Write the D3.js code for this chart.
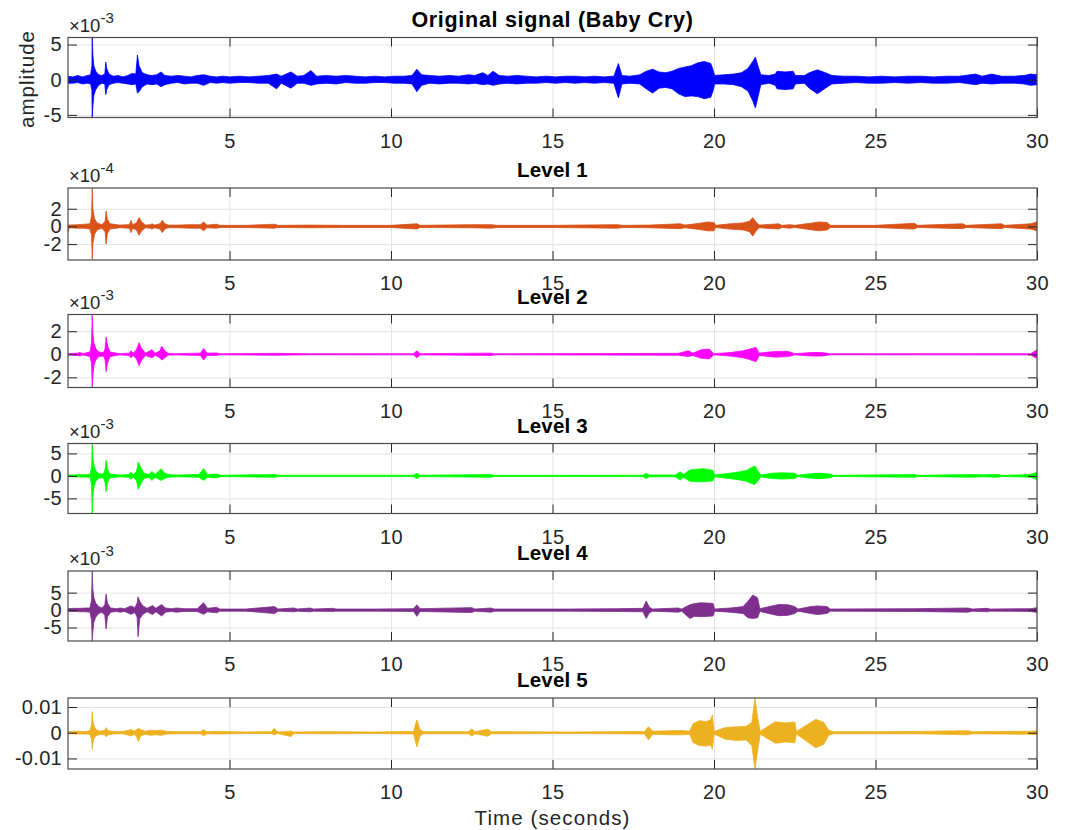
<!DOCTYPE html>
<html lang="en">
<head>
<meta charset="UTF-8">
<title>Baby Cry wavelet levels</title>
<script src="https://d3js.org/d3.v7.min.js"></script>
<style>
  body { margin: 0; background: #fff; }
  svg { display: block; font-family: "Liberation Sans", Arial, Helvetica, sans-serif; }
  .tick text { fill: #262626; font-size: 20px; letter-spacing: 0.3px; }
  .domain { display: none; }
</style>
</head>
<body>
<div id="chart"></div>
<script>
// signal envelopes: [time (s), upper, lower]
// original, level2..level5 in units of 1e-3, level1 in units of 1e-4
const original = [
  [0.00,0.5,-0.5],[0.15,0.4,-0.5],[0.30,0.6,-0.4],[0.45,0.4,-0.6],[0.60,0.6,-0.5],[0.70,0.7,-0.6],
  [0.74,2.0,-1.5],[0.75,6.0,-5.37],[0.77,3.5,-3.8],[0.80,2.0,-2.2],[0.86,1.2,-1.4],[0.95,0.7,-0.8],
  [1.05,0.6,-0.5],[1.14,0.8,-0.6],[1.17,2.5,-2.1],[1.20,1.6,-1.4],[1.27,0.8,-0.7],[1.40,0.5,-0.5],
  [1.55,0.6,-0.4],[1.70,0.4,-0.5],[1.85,0.6,-0.6],[1.98,0.9,-0.7],[2.10,0.8,-0.6],[2.15,3.5,-1.9],
  [2.20,2.0,-1.7],[2.30,1.0,-1.0],[2.45,0.7,-0.6],[2.60,0.6,-0.7],[2.75,0.7,-0.6],[2.88,1.1,-1.0],
  [3.00,0.6,-0.7],[3.20,0.5,-0.5],[3.40,0.6,-0.4],[3.60,0.5,-0.6],[3.80,0.4,-0.5],[4.00,0.6,-0.5],
  [4.20,0.7,-0.8],[4.40,0.5,-0.4],[4.60,0.4,-0.5],[4.80,0.5,-0.4],[5.00,0.4,-0.5],[5.30,0.5,-0.4],
  [5.60,0.4,-0.4],[5.90,0.5,-0.5],[6.20,0.6,-0.5],[6.46,0.8,-1.3],[6.60,0.5,-0.5],[6.90,1.1,-1.2],
  [7.10,0.5,-0.5],[7.30,0.6,-0.5],[7.52,1.3,-0.8],[7.70,0.5,-0.6],[8.00,0.6,-0.5],[8.30,0.5,-0.6],
  [8.60,0.6,-0.4],[8.90,0.5,-0.5],[9.20,0.4,-0.5],[9.50,0.5,-0.4],[9.80,0.4,-0.4],[10.10,0.5,-0.5],
  [10.40,0.5,-0.5],[10.65,0.6,-0.6],[10.80,1.5,-1.7],[10.95,0.7,-0.8],[11.20,0.6,-0.5],[11.50,0.5,-0.6],
  [11.80,0.6,-0.5],[12.10,0.5,-0.5],[12.40,0.7,-0.6],[12.60,0.6,-0.5],[12.84,1.0,-0.7],[13.00,0.6,-0.6],
  [13.16,1.2,-0.8],[13.35,0.6,-0.6],[13.60,0.5,-0.5],[13.90,0.6,-0.6],[14.20,0.5,-0.5],[14.50,0.4,-0.5],
  [14.80,0.5,-0.4],[15.10,0.4,-0.5],[15.40,0.5,-0.4],[15.70,0.5,-0.5],[16.00,0.4,-0.4],[16.30,0.5,-0.5],
  [16.60,0.4,-0.4],[16.90,0.5,-0.5],[17.04,2.3,-2.6],[17.15,0.6,-0.6],[17.40,0.5,-0.5],[17.70,0.7,-0.6],
  [17.90,1.2,-1.3],[18.10,1.5,-1.9],[18.30,1.1,-1.2],[18.50,1.0,-1.1],[18.70,1.2,-1.3],[18.90,1.6,-2.0],
  [19.10,1.8,-2.4],[19.30,2.0,-2.3],[19.50,2.4,-2.4],[19.70,2.6,-2.7],[19.90,2.3,-2.5],[19.97,1.4,-1.6],
  [20.02,0.6,-0.6],[20.30,0.7,-0.6],[20.60,0.8,-0.7],[20.85,1.0,-1.0],[21.05,1.6,-1.6],[21.20,2.6,-3.0],
  [21.28,3.2,-4.0],[21.36,2.0,-2.5],[21.45,0.7,-0.7],[21.70,0.6,-0.5],[21.90,0.8,-0.8],[21.95,1.2,-1.3],
  [22.20,1.1,-1.4],[22.45,1.2,-1.3],[22.52,0.6,-0.6],[22.80,0.6,-0.5],[22.95,1.0,-1.2],[23.20,1.4,-2.0],
  [23.45,1.0,-1.2],[23.65,0.6,-0.6],[24.00,0.5,-0.5],[24.40,0.5,-0.4],[24.80,0.4,-0.5],[25.20,0.5,-0.5],
  [25.60,0.4,-0.4],[26.00,0.5,-0.5],[26.40,0.5,-0.4],[26.80,0.4,-0.5],[27.20,0.5,-0.5],[27.60,0.5,-0.4],
  [28.10,0.8,-0.7],[28.30,0.5,-0.5],[28.60,0.8,-0.6],[28.90,0.5,-0.5],[29.30,0.5,-0.5],[29.60,0.6,-0.6],
  [29.80,0.8,-0.8],[30.00,0.7,-0.7]
];

const level1 = [
  [0.00,0.15,-0.6],[0.04,0.15,-0.15],[0.30,0.2,-0.2],[0.50,0.25,-0.2],[0.68,0.3,-0.3],[0.73,1.2,-1.0],
  [0.75,4.35,-3.8],[0.77,2.0,-2.0],[0.82,0.9,-0.9],[0.90,0.4,-0.4],[1.05,0.2,-0.2],[1.15,0.6,-0.6],
  [1.18,1.75,-2.0],[1.22,0.8,-0.8],[1.30,0.3,-0.3],[1.60,0.15,-0.15],[1.90,0.2,-0.2],[1.95,0.7,-0.7],
  [2.00,0.2,-0.2],[2.12,0.4,-0.4],[2.20,1.0,-1.0],[2.28,0.5,-0.5],[2.40,0.15,-0.15],[2.55,0.2,-0.2],
  [2.60,0.3,-0.3],[2.68,0.15,-0.15],[2.85,0.3,-0.3],[2.92,0.7,-0.7],[3.00,0.3,-0.3],[3.10,0.15,-0.15],
  [3.40,0.15,-0.15],[3.80,0.2,-0.2],[4.10,0.2,-0.2],[4.20,0.5,-0.5],[4.30,0.15,-0.15],[4.60,0.25,-0.2],
  [4.70,0.12,-0.12],[5.50,0.12,-0.12],[6.40,0.25,-0.2],[6.50,0.12,-0.12],[7.50,0.15,-0.15],[8.50,0.12,-0.12],
  [10.00,0.12,-0.12],[10.80,0.3,-0.3],[10.90,0.12,-0.12],[12.50,0.2,-0.15],[13.10,0.2,-0.2],[13.30,0.12,-0.12],
  [15.00,0.12,-0.12],[17.00,0.2,-0.2],[17.20,0.12,-0.12],[18.00,0.15,-0.15],[18.95,0.3,-0.25],[19.10,0.15,-0.15],
  [19.55,0.35,-0.35],[19.80,0.5,-0.5],[20.00,0.45,-0.5],[20.05,0.12,-0.12],[20.50,0.3,-0.3],[20.90,0.4,-0.4],
  [21.10,0.6,-0.6],[21.20,1.0,-1.1],[21.30,0.5,-0.5],[21.40,0.15,-0.15],[21.80,0.25,-0.25],[22.00,0.3,-0.3],
  [22.10,0.12,-0.12],[22.35,0.2,-0.2],[22.50,0.12,-0.12],[23.05,0.4,-0.4],[23.25,0.5,-0.5],[23.50,0.45,-0.4],
  [23.60,0.12,-0.12],[25.00,0.12,-0.12],[26.20,0.35,-0.3],[26.30,0.12,-0.12],[27.70,0.3,-0.25],[27.80,0.12,-0.12],
  [28.90,0.3,-0.25],[29.00,0.12,-0.12],[29.80,0.3,-0.3],[30.00,0.5,-0.5]
];

const level2 = [
  [0.00,0.05,-0.05],[0.30,0.1,-0.1],[0.37,0.15,-0.15],[0.45,0.06,-0.06],[0.55,0.12,-0.1],[0.68,0.2,-0.2],
  [0.73,1.0,-0.8],[0.75,3.45,-2.88],[0.77,1.8,-1.8],[0.80,1.0,-1.0],[0.86,0.5,-0.5],[0.95,0.2,-0.2],
  [1.10,0.15,-0.15],[1.15,0.5,-0.5],[1.18,1.5,-1.5],[1.22,0.8,-0.8],[1.30,0.2,-0.2],[1.60,0.05,-0.05],
  [1.90,0.1,-0.1],[1.95,0.3,-0.3],[2.02,0.1,-0.1],[2.12,0.4,-0.4],[2.20,1.0,-1.0],[2.28,0.5,-0.5],
  [2.40,0.1,-0.1],[2.60,0.4,-0.3],[2.70,0.1,-0.1],[2.85,0.3,-0.3],[2.90,0.7,-0.5],[3.00,0.3,-0.3],
  [3.10,0.08,-0.08],[3.30,0.05,-0.05],[4.10,0.1,-0.1],[4.20,0.5,-0.5],[4.30,0.1,-0.1],[4.60,0.12,-0.1],
  [4.70,0.04,-0.04],[6.40,0.08,-0.08],[7.50,0.04,-0.04],[10.70,0.05,-0.05],[10.80,0.3,-0.3],[10.90,0.05,-0.05],
  [13.10,0.1,-0.1],[13.20,0.04,-0.04],[18.90,0.08,-0.08],[19.20,0.3,-0.2],[19.35,0.1,-0.1],[19.60,0.4,-0.35],
  [19.85,0.45,-0.4],[20.00,0.05,-0.05],[20.50,0.15,-0.15],[20.90,0.3,-0.3],[21.10,0.45,-0.45],[21.30,0.6,-0.65],
  [21.40,0.1,-0.1],[21.90,0.25,-0.25],[22.30,0.25,-0.2],[22.50,0.05,-0.05],[23.00,0.15,-0.15],[23.35,0.15,-0.15],
  [23.60,0.04,-0.04],[28.00,0.05,-0.05],[29.80,0.05,-0.05],[29.95,0.3,-0.3],[30.00,0.3,-0.3]
];

const level3 = [
  [0.00,0.2,-0.2],[0.40,0.25,-0.25],[0.68,0.3,-0.3],[0.73,2.0,-2.0],[0.75,7.2,-8.36],[0.77,4.0,-4.5],
  [0.80,2.5,-2.5],[0.86,1.2,-1.2],[0.95,0.5,-0.5],[1.10,0.4,-0.4],[1.15,1.5,-1.5],[1.18,3.5,-3.5],
  [1.22,1.5,-1.5],[1.30,0.4,-0.4],[1.60,0.2,-0.2],[1.88,0.3,-0.3],[1.95,0.8,-0.7],[2.03,0.3,-0.3],
  [2.12,1.0,-1.0],[2.18,3.1,-3.0],[2.26,1.8,-1.6],[2.35,0.6,-0.6],[2.50,0.3,-0.3],[2.60,1.0,-1.0],
  [2.70,0.3,-0.3],[2.88,1.6,-1.0],[2.98,0.7,-0.6],[3.10,0.3,-0.3],[3.40,0.2,-0.2],[4.05,0.3,-0.3],
  [4.20,1.6,-1.0],[4.32,0.3,-0.3],[4.60,0.4,-0.4],[4.75,0.15,-0.15],[6.40,0.3,-0.3],[6.50,0.15,-0.15],
  [10.70,0.15,-0.15],[10.80,0.6,-0.6],[10.90,0.15,-0.15],[13.10,0.3,-0.3],[13.20,0.12,-0.12],[17.80,0.15,-0.15],
  [17.90,0.6,-0.6],[18.00,0.2,-0.2],[18.80,0.2,-0.2],[18.95,0.9,-0.9],[19.05,0.3,-0.3],[19.25,1.3,-1.2],
  [19.45,1.5,-1.3],[19.66,1.6,-1.3],[19.85,1.4,-1.2],[19.97,1.2,-1.1],[20.02,0.2,-0.2],[20.50,0.6,-0.6],
  [20.80,0.9,-0.9],[21.00,1.2,-1.2],[21.20,2.0,-1.8],[21.27,2.2,-1.9],[21.37,1.0,-1.0],[21.45,0.2,-0.2],
  [21.80,0.6,-0.6],[22.10,0.7,-0.7],[22.50,0.6,-0.6],[22.60,0.15,-0.15],[23.00,0.5,-0.5],[23.30,0.6,-0.6],
  [23.60,0.4,-0.4],[23.70,0.12,-0.12],[26.20,0.3,-0.3],[26.30,0.12,-0.12],[27.90,0.3,-0.3],[28.30,0.25,-0.2],
  [28.80,0.3,-0.3],[28.90,0.12,-0.12],[29.80,0.3,-0.3],[30.00,0.8,-0.8]
];

const level4 = [
  [0.00,0.4,-0.4],[0.20,0.5,-0.4],[0.40,0.5,-0.5],[0.55,0.6,-0.5],[0.68,0.6,-0.6],[0.73,3.0,-3.0],
  [0.75,11.2,-8.86],[0.77,6.0,-6.0],[0.80,3.5,-3.5],[0.86,2.0,-2.0],[0.95,1.0,-1.0],[1.05,0.6,-0.6],
  [1.14,1.5,-1.5],[1.18,4.6,-5.4],[1.22,2.0,-2.0],[1.32,0.6,-0.6],[1.50,0.4,-0.4],[1.61,0.6,-0.6],
  [1.75,0.4,-0.4],[1.95,1.2,-1.2],[2.07,0.7,-0.7],[2.14,2.0,-2.0],[2.17,3.8,-7.6],[2.22,2.5,-2.5],
  [2.32,1.2,-1.2],[2.45,0.5,-0.5],[2.62,1.3,-1.3],[2.72,0.5,-0.5],[2.90,1.6,-1.7],[3.02,0.6,-0.6],
  [3.20,0.4,-0.4],[3.36,0.6,-0.6],[3.60,0.4,-0.4],[4.00,0.4,-0.4],[4.20,2.1,-1.2],[4.32,0.5,-0.5],
  [4.60,0.8,-0.8],[4.70,0.3,-0.3],[5.50,0.3,-0.3],[6.40,1.0,-1.0],[6.50,0.3,-0.3],[7.00,0.6,-0.5],
  [7.10,0.3,-0.3],[7.50,0.6,-0.5],[7.60,0.3,-0.3],[8.20,0.5,-0.4],[8.30,0.3,-0.3],[9.50,0.3,-0.3],
  [10.70,0.4,-0.4],[10.80,1.5,-1.8],[10.90,0.4,-0.4],[12.50,0.7,-0.7],[12.60,0.3,-0.3],[13.10,0.6,-0.6],
  [13.20,0.3,-0.3],[15.50,0.3,-0.3],[17.00,0.4,-0.4],[17.80,0.5,-0.5],[17.90,2.6,-2.4],[18.00,0.8,-0.8],
  [18.10,0.3,-0.3],[18.90,0.6,-0.6],[19.00,0.3,-0.3],[19.25,1.5,-2.4],[19.40,1.9,-1.8],[19.60,2.1,-1.9],
  [19.80,2.0,-1.8],[19.97,1.9,-1.7],[20.02,0.3,-0.3],[20.50,0.6,-0.6],[20.90,1.0,-1.0],[21.05,2.5,-2.2],
  [21.20,4.3,-2.4],[21.35,3.5,-2.2],[21.42,0.4,-0.4],[21.80,1.2,-1.2],[22.00,1.6,-1.6],[22.30,1.5,-1.5],
  [22.50,1.0,-1.0],[22.60,0.3,-0.3],[23.00,1.0,-1.0],[23.20,1.2,-1.3],[23.50,1.0,-1.0],[23.60,0.3,-0.3],
  [26.20,0.4,-0.4],[27.86,0.6,-0.6],[28.00,0.3,-0.3],[28.45,0.5,-0.5],[28.55,0.3,-0.3],[29.80,0.4,-0.4],
  [30.00,0.7,-0.7]
];

const level5 = [
  [0.00,0.4,-0.4],[0.30,0.6,-0.5],[0.50,0.4,-0.5],[0.68,0.8,-0.6],[0.73,3.0,-2.5],[0.75,8.2,-6.5],
  [0.77,4.5,-4.0],[0.81,2.5,-2.0],[0.88,1.2,-1.2],[1.00,0.6,-0.6],[1.14,1.0,-0.8],[1.18,2.0,-1.6],
  [1.24,0.8,-0.8],[1.40,0.5,-0.5],[1.70,0.5,-0.4],[1.88,1.0,-1.0],[1.95,1.3,-1.3],[2.05,0.6,-0.6],
  [2.12,1.2,-1.5],[2.18,1.7,-3.5],[2.25,1.2,-1.2],[2.40,0.6,-0.6],[2.55,1.0,-1.0],[2.70,0.8,-0.8],
  [2.90,1.0,-1.0],[3.05,0.5,-0.5],[3.50,0.4,-0.4],[4.10,0.4,-0.4],[4.20,1.2,-1.2],[4.30,0.4,-0.4],
  [4.60,0.5,-0.5],[5.50,0.3,-0.3],[6.30,0.4,-0.3],[6.38,1.7,-0.8],[6.50,0.3,-0.3],[6.90,0.6,-1.5],
  [7.00,0.3,-0.3],[8.00,0.4,-0.4],[9.50,0.3,-0.3],[10.70,0.5,-0.5],[10.80,5.0,-5.5],[10.90,1.2,-1.2],
  [11.00,0.4,-0.4],[12.40,0.4,-0.4],[12.50,1.5,-1.3],[12.60,0.4,-0.4],[13.00,1.4,-1.4],[13.10,0.4,-0.4],
  [15.50,0.3,-0.3],[17.00,0.4,-0.4],[17.85,0.5,-0.5],[17.97,2.3,-2.8],[18.10,0.6,-0.6],[18.70,0.8,-0.8],
  [19.00,0.9,-0.8],[19.25,0.6,-0.6],[19.35,3.5,-3.8],[19.55,4.7,-5.0],[19.75,4.3,-5.2],[19.90,5.0,-4.8],
  [19.95,6.9,-6.5],[20.00,0.5,-0.5],[20.35,2.0,-2.5],[20.70,2.3,-3.0],[21.00,2.5,-2.8],[21.17,4.0,-5.0],
  [21.27,13.5,-14.1],[21.35,6.0,-7.0],[21.43,0.6,-0.6],[21.90,4.3,-4.1],[22.20,3.8,-3.6],[22.50,4.2,-3.9],
  [22.55,0.5,-0.5],[22.90,3.2,-3.6],[23.15,5.2,-5.8],[23.40,4.0,-4.5],[23.55,1.0,-1.0],[23.70,0.4,-0.4],
  [25.00,0.4,-0.4],[26.20,0.5,-0.4],[27.86,0.8,-0.8],[28.00,0.4,-0.4],[29.80,0.6,-0.6],[30.00,0.7,-0.7]
];

const signals = [original, level1, level2, level3, level4, level5];
const titles = ["Original signal (Baby Cry)", "Level 1", "Level 2", "Level 3", "Level 4", "Level 5"];
const colors = ["#0000ff", "#d95319", "#ff00ff", "#00ff00", "#7e2f8e", "#edb120"];
const exponents = ["-3", "-4", "-3", "-3", "-3", null];
const yTicks = [[-5, 0, 5], [-2, 0, 2], [-2, 0, 2], [-5, 0, 5], [-5, 0, 5], [-10, 0, 10]];
const yTickLabels = [["-5", "0", "5"], ["-2", "0", "2"], ["-2", "0", "2"], ["-5", "0", "5"], ["-5", "0", "5"], ["-0.01", "0", "0.01"]];
const xTicks = [5, 10, 15, 20, 25, 30];

// layout
const width = 1065, height = 830;
const left = 68, right = 1037;
const tops = [37.5, 188, 314.5, 443.5, 571, 698];
const bottoms = [117.5, 260, 387.5, 513.5, 641, 769];
const tickLen = 9;

const svg = d3.select("#chart").append("svg")
  .attr("width", width)
  .attr("height", height);

const x = d3.scaleLinear().domain([0, 30]).range([left, right]);

signals.forEach((data, i) => {
  const top = tops[i], bottom = bottoms[i];
  const y = d3.scaleLinear()
    .domain([d3.min(data, d => d[2]), d3.max(data, d => d[1])])
    .range([bottom, top]);

  const g = svg.append("g");

  // grid
  g.append("g")
    .attr("transform", `translate(0,${bottom})`)
    .call(d3.axisBottom(x).tickValues(xTicks).tickSize(-(bottom - top)).tickFormat(""))
    .selectAll("line").attr("stroke", "#e3e3e3");
  g.append("g")
    .attr("transform", `translate(${left},0)`)
    .call(d3.axisLeft(y).tickValues(yTicks[i]).tickSize(-(right - left)).tickFormat(""))
    .selectAll("line").attr("stroke", "#e3e3e3");

  // signal envelope
  const clipId = "clip" + i;
  svg.append("clipPath").attr("id", clipId)
    .append("rect")
    .attr("x", left).attr("y", top)
    .attr("width", right - left).attr("height", bottom - top);

  const area = d3.area()
    .x(d => x(d[0]))
    .y0(d => y(d[2]))
    .y1(d => y(d[1]));

  g.append("path")
    .datum(data)
    .attr("clip-path", `url(#${clipId})`)
    .attr("fill", colors[i])
    .attr("stroke", colors[i])
    .attr("stroke-width", 0.8)
    .attr("stroke-linejoin", "round")
    .attr("d", area);

  // axes with inward ticks
  const tickG = g.append("g");
  tickG.append("g")
    .attr("transform", `translate(0,${bottom})`)
    .call(d3.axisBottom(x).tickValues(xTicks).tickSizeInner(-tickLen).tickSizeOuter(0).tickPadding(16));
  tickG.append("g")
    .attr("transform", `translate(0,${top})`)
    .call(d3.axisTop(x).tickValues(xTicks).tickSizeInner(-tickLen).tickSizeOuter(0).tickFormat(""));
  tickG.append("g")
    .attr("transform", `translate(${left},0)`)
    .call(d3.axisLeft(y).tickValues(yTicks[i]).tickSizeInner(-tickLen).tickSizeOuter(0).tickPadding(6)
      .tickFormat((d, k) => yTickLabels[i][k]));
  tickG.append("g")
    .attr("transform", `translate(${right},0)`)
    .call(d3.axisRight(y).tickValues(yTicks[i]).tickSizeInner(-tickLen).tickSizeOuter(0).tickFormat(""));
  tickG.selectAll(".tick line").attr("stroke", "#262626");

  // box
  g.append("rect")
    .attr("x", left).attr("y", top)
    .attr("width", right - left).attr("height", bottom - top)
    .attr("fill", "none")
    .attr("stroke", "#4a4a4a")
    .attr("stroke-width", 1.2);

  // title
  g.append("text")
    .attr("x", (left + right) / 2)
    .attr("y", top - 11)
    .attr("text-anchor", "middle")
    .attr("font-size", i === 0 ? "21.5px" : "20.5px")
    .attr("letter-spacing", i === 0 ? "0.7px" : "0.2px")
    .attr("font-weight", "bold")
    .attr("fill", "#000")
    .text(titles[i]);

  // exponent label
  if (exponents[i]) {
    const t = g.append("text")
      .attr("x", left + 1)
      .attr("y", top - 6)
      .attr("font-size", "18.5px")
      .attr("fill", "#262626");
    t.append("tspan").text("\u00d710");
    t.append("tspan").attr("dy", -9).attr("font-size", "15px").text(exponents[i]);
  }
});

// axis labels
svg.append("text")
  .attr("transform", "translate(34,79) rotate(-90)")
  .attr("text-anchor", "middle")
  .attr("font-size", "20.5px")
  .attr("letter-spacing", "1px")
  .attr("fill", "#262626")
  .text("amplitude");

svg.append("text")
  .attr("x", (left + right) / 2)
  .attr("y", 825)
  .attr("text-anchor", "middle")
  .attr("font-size", "20.5px")
  .attr("letter-spacing", "1.1px")
  .attr("fill", "#262626")
  .text("Time (seconds)");
</script>
</body>
</html>
